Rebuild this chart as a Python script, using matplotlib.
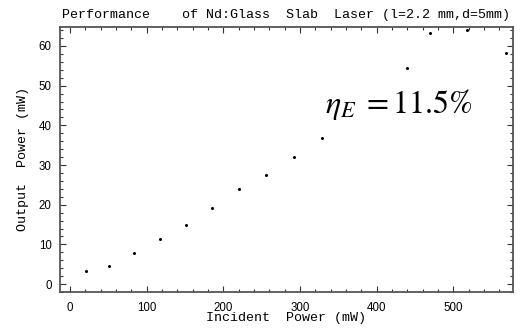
"""
Nd:Glass slab laser output vs incident power.
"""

import matplotlib

matplotlib.use("Agg")
import matplotlib.pyplot as plt
from matplotlib.ticker import MultipleLocator

# values
incident_mw = [21, 51, 83, 117, 151, 185, 221, 255, 292, 328, 439, 469, 518, 568]
output_mw = [3.4, 4.5, 7.8, 11.4, 14.8, 19.2, 24.0, 27.6, 31.9, 36.7, 54.4, 63.3, 63.9, 58.3]

title = "Performance    of Nd:Glass  Slab  Laser (l=2.2 mm,d=5mm)"
x_label = "Incident  Power (mW)"
y_label = "Output  Power (mW)"
eff_label = r"$\eta_E\;=11.5\%$"

mono = "Liberation Mono"
plt.rcParams["mathtext.fontset"] = "stix"

fig = plt.figure(figsize=(5.2, 3.33), dpi=100)
fig.subplots_adjust(left=60 / 520, right=512.5 / 520, top=1 - 26.5 / 333, bottom=1 - 292 / 333)
ax = fig.add_subplot(111)

ax.plot(incident_mw, output_mw, linestyle="none", marker="o", markersize=2.2,
        color="black", markeredgewidth=0)

ax.set_xlim(-13, 577)
ax.set_ylim(-2.0, 64.9)

ax.xaxis.set_major_locator(MultipleLocator(100))
ax.xaxis.set_minor_locator(MultipleLocator(20))
ax.yaxis.set_major_locator(MultipleLocator(10))
ax.yaxis.set_minor_locator(MultipleLocator(2))

ax.tick_params(which="both", direction="in", top=True, right=True, colors="#333333",
               labelcolor="black", labelsize=8.3)
ax.tick_params(which="major", length=4, width=0.8)
ax.tick_params(which="minor", length=2, width=0.8)
ax.tick_params(axis="x", pad=7)
ax.tick_params(axis="y", pad=6)
for lab in ax.get_xticklabels() + ax.get_yticklabels():
    lab.set_family("Liberation Sans")

for spine in ax.spines.values():
    spine.set_color("#555555")
    spine.set_linewidth(1.3)

ax.set_title(title, family=mono, fontsize=9.6, pad=6)
ax.set_xlabel(x_label, family=mono, fontsize=9.6, labelpad=-1)
ax.set_ylabel(y_label, family=mono, fontsize=9.6, labelpad=7)

# efficiency annotation in serif
ax.text(332, 43, eff_label, fontsize=23, ha="left", va="baseline")

fig.savefig("out.png", dpi=100)
